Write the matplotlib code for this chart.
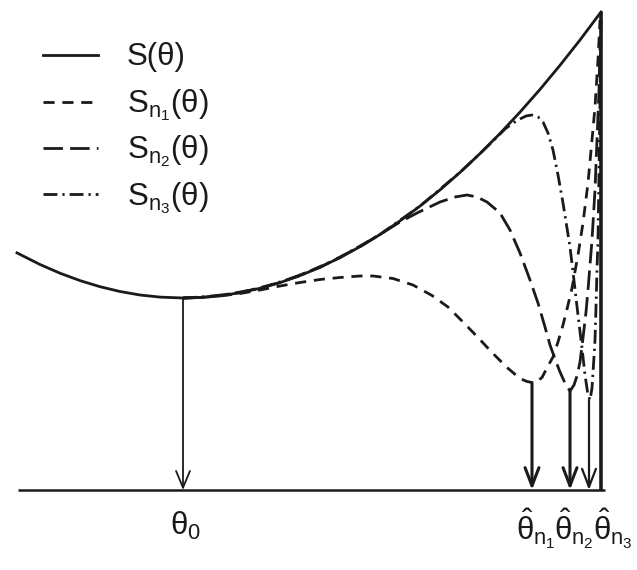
import matplotlib
matplotlib.use("Agg")
import matplotlib.pyplot as plt

plt.rcParams['font.family'] = ['Liberation Sans', 'DejaVu Sans']
plt.rcParams['mathtext.fontset'] = 'custom'
plt.rcParams['mathtext.rm'] = 'Liberation Sans'
plt.rcParams['mathtext.it'] = 'Liberation Sans'
plt.rcParams['mathtext.bf'] = 'Liberation Sans:bold'

# ---- data (theta on horizontal axis, criterion value on vertical axis) ----
theta_S = [17, 40, 60, 80, 100, 120, 140, 160, 183, 200, 220, 240, 260, 280, 300,
           320, 340, 360, 380, 400, 420, 440, 460, 480, 500, 520, 540, 560, 580, 601]
S_vals = [237.1, 225.5, 216.8, 209.4, 203.3, 198.5, 195.0, 192.9, 192.0, 192.5, 194.2,
          197.3, 201.7, 207.4, 214.4, 222.7, 232.4, 243.3, 255.5, 269.1, 283.9, 300.1,
          317.6, 336.4, 356.5, 377.9, 400.6, 424.7, 450.0, 478.0]

theta_n1 = [183, 200, 220, 240, 260, 280, 300, 320, 340, 360, 373, 393, 413, 432, 448,
            463, 478, 492, 507, 520, 527, 532, 537, 542, 548, 553, 558, 563, 568, 572,
            578, 583, 588, 592, 595, 598, 600]
Sn1_vals = [192, 192.5, 194, 196.5, 200, 204, 207.5, 210.5, 212.5, 214, 214, 211.5,
            205, 194.5, 183, 168, 152.5, 137.5, 122.5, 111.5, 108.5, 107.5, 108.5, 112.5,
            124, 133, 148, 165, 185, 202, 235, 267, 307, 350, 383, 430, 470]

theta_n2 = [183, 200, 240, 280, 320, 360, 400, 417, 440, 455, 467, 477, 487, 500, 510,
            520, 530, 538, 545, 550, 555, 560, 565, 570, 574, 577, 580, 583, 586, 588,
            590, 592, 595, 597, 599, 600]
Sn2_vals = [192, 192.5, 197.3, 207.4, 222.7, 243.3, 268, 277, 288, 293, 295, 293, 288,
            277, 260, 237, 210, 187, 163, 145, 131, 118, 107, 99, 105, 114, 128, 152, 178,
            200, 225, 250, 300, 350, 400, 445]

theta_n3 = [183, 220, 260, 300, 340, 380, 420, 460, 480, 495, 505, 513, 520, 526, 532,
            538, 543, 548, 553, 558, 563, 567, 570, 573, 578, 582, 585, 588, 590, 592,
            593, 595, 596, 597, 598, 599, 600, 601]
Sn3_vals = [192, 194.2, 201.7, 214.4, 232.4, 255.5, 283.9, 317.6, 336.4, 351, 361, 367,
            371, 374, 375, 373, 368, 357, 340, 315, 287, 262, 243, 218, 175, 142, 115, 95,
            90, 102, 117, 150, 183, 220, 250, 317, 390, 470]

theta0 = 183
S_min = 192
theta_hats = [532, 570, 589]
Sn_mins = [107.5, 99, 90]
theta_max = 601
S_at_max = 478

legend_labels = [r'S(θ)', r'S$_{n_1}$(θ)', r'S$_{n_2}$(θ)', r'S$_{n_3}$(θ)']
tick_label0 = r'θ$_0$'
hat_labels = [r'$\hat{θ}_{n_1}$', r'$\hat{θ}_{n_2}$', r'$\hat{θ}_{n_3}$']

# ---- styles ----
ls_solid = '-'
ls_n1 = (0, (4.0, 2.8))
ls_n2 = (0, (7.0, 2.6))
ls_n3 = (0, (5.0, 1.8, 0.8, 1.8))
styles = [ls_solid, ls_n1, ls_n2, ls_n3]
lw = 2.0
ink = '#1a1a1a'

fig = plt.figure(figsize=(6.37, 5.70), dpi=100)
ax = fig.add_axes([0, 0, 1, 1])
ax.set_xlim(0, 637)
ax.set_ylim(-80, 490)
ax.axis('off')

ax.plot(theta_S, S_vals, color=ink, lw=lw, linestyle=ls_solid, zorder=3)
ax.plot(theta_n1, Sn1_vals, color=ink, lw=lw, linestyle=ls_n1, dash_capstyle='butt')
ax.plot(theta_n2, Sn2_vals, color=ink, lw=lw, linestyle=ls_n2, dash_capstyle='butt')
ax.plot(theta_n3, Sn3_vals, color=ink, lw=lw, linestyle=ls_n3, dash_capstyle='butt')

# axis line and right boundary
ax.plot([18, 605], [0, 0], color=ink, lw=1.8, solid_capstyle='butt')
ax.plot([theta_max, theta_max], [0, S_at_max], color=ink, lw=2.6, solid_capstyle='butt')

# arrows
ax.annotate('', xy=(theta0, 0), xytext=(theta0, S_min),
            arrowprops=dict(arrowstyle='->,head_length=0.6,head_width=0.25',
                            lw=1.3, color=ink, shrinkA=0, shrinkB=0,
                            mutation_scale=20))
for i, (th, sm) in enumerate(zip(theta_hats, Sn_mins)):
    ax.annotate('', xy=(th, 0), xytext=(th, sm),
                arrowprops=dict(arrowstyle='->,head_length=0.65,head_width=0.25',
                                lw=2.2 if i < 2 else 1.6, color=ink,
                                shrinkA=0, shrinkB=0, mutation_scale=20))

fs = 22.5
ax.text(170, -45, tick_label0, fontsize=fs, ha='left', va='baseline', color=ink)
for x, lab in zip([516, 554, 593], hat_labels):
    ax.text(x, -50, lab, fontsize=fs, ha='left', va='baseline', color=ink)

# legend
leg_line_y = [435, 388, 342, 296]
leg_text_y = [425, 378, 332, 285]
for st, ly, ty, lab in zip(styles, leg_line_y, leg_text_y, legend_labels):
    ax.plot([43, 98], [ly, ly], color=ink, lw=lw, linestyle=st, dash_capstyle='butt')
    ax.text(127, ty, lab, fontsize=fs, ha='left', va='baseline', color=ink)

fig.savefig('out.png', dpi=100, facecolor='white')
